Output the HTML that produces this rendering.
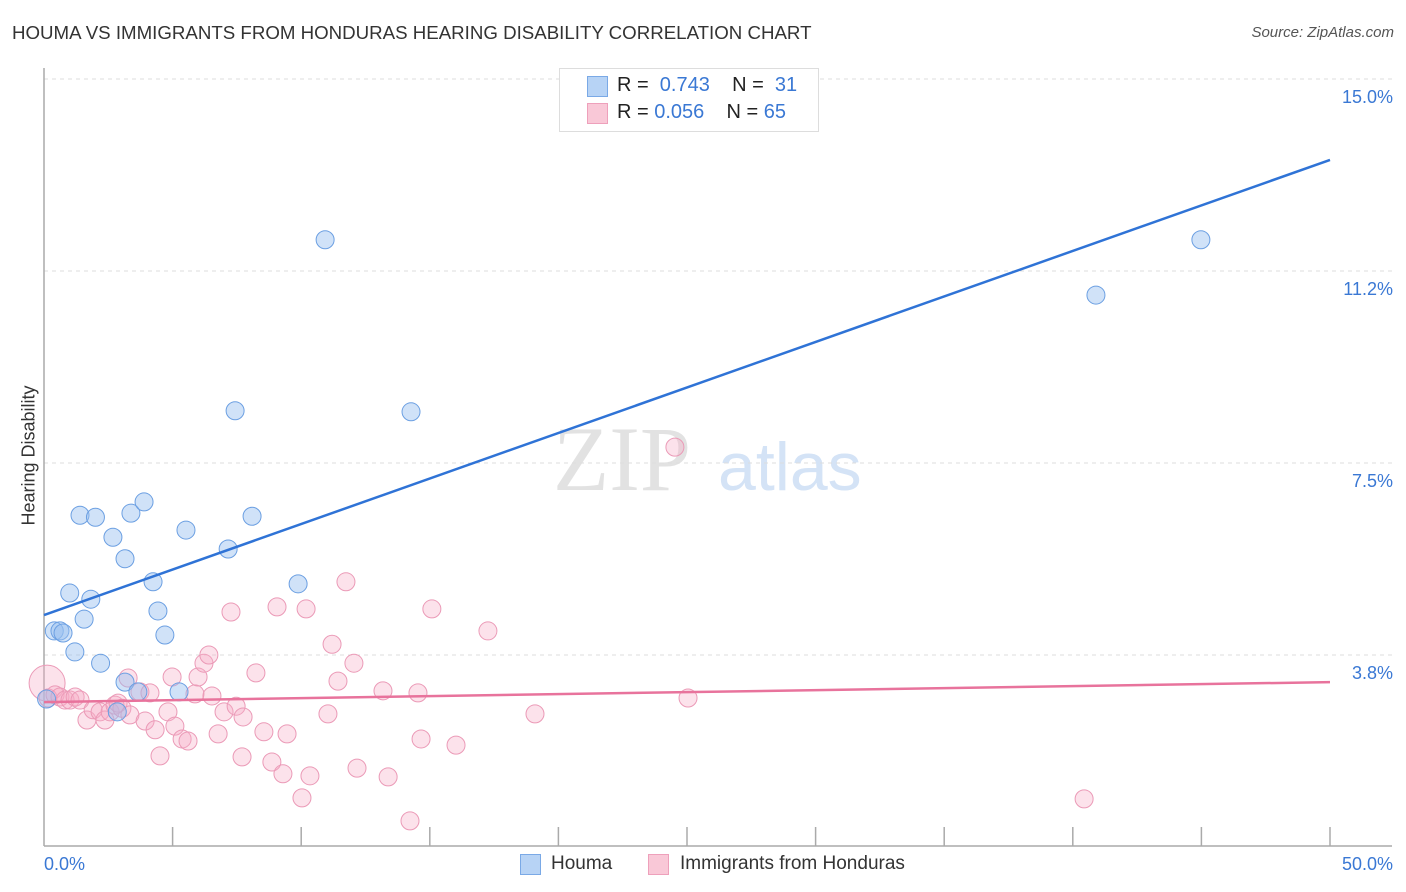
<!DOCTYPE html>
<html><head><meta charset="utf-8"><style>
body{margin:0;background:#fff;font-family:"Liberation Sans",sans-serif;}
#wrap{position:relative;width:1406px;height:892px;overflow:hidden;}
.t{position:absolute;white-space:nowrap;}
</style></head><body>
<div id="wrap">
<div class="t" style="left:12px;top:22px;font-size:18.7px;color:#333;">HOUMA VS IMMIGRANTS FROM HONDURAS HEARING DISABILITY CORRELATION CHART</div>
<div class="t" style="right:12px;top:24px;font-size:15px;color:#555;font-style:italic;">Source: ZipAtlas.com</div>
<div class="t" style="left:-41px;top:445px;font-size:18px;color:#333;transform:rotate(-90deg);">Hearing Disability</div>
<svg id="svg" width="1406" height="892" style="position:absolute;left:0;top:0"></svg>
<div style="position:absolute;left:559px;top:68px;width:258px;height:62px;border:1px solid #ddd;background:#fff;"></div>
<div style="position:absolute;left:587px;top:76px;width:19px;height:19px;background:#b7d3f5;border:1px solid #7aa9e6;"></div>
<div style="position:absolute;left:587px;top:103px;width:19px;height:19px;background:#f9c8d7;border:1px solid #eea0bb;"></div>
<div class="t" style="left:617px;top:74px;font-size:20px;color:#222;">R = &nbsp;<span style="color:#3a78d4">0.743</span>&nbsp;&nbsp;&nbsp; N = &nbsp;<span style="color:#3a78d4">31</span></div>
<div class="t" style="left:617px;top:101px;font-size:20px;color:#222;">R = <span style="color:#3a78d4">0.056</span>&nbsp;&nbsp;&nbsp; N = <span style="color:#3a78d4">65</span></div>
<div style="position:absolute;left:520px;top:854px;width:19px;height:19px;background:#b7d3f5;border:1px solid #7aa9e6;"></div>
<div class="t" style="left:551px;top:853px;font-size:19px;color:#333;">Houma</div>
<div style="position:absolute;left:648px;top:854px;width:19px;height:19px;background:#f9c8d7;border:1px solid #eea0bb;"></div>
<div class="t" style="left:680px;top:853px;font-size:19px;color:#333;">Immigrants from Honduras</div>
</div>
<script>
const xTicksLabels=["0.0%","50.0%"];
const yTickValues=[3.75,7.5,11.25,15];
const yTickLabels=["3.8%","7.5%","11.2%","15.0%"];
const houmaX=[0.1,0.4,0.62,0.74,1.0,1.2,1.4,1.56,1.82,2.0,2.2,2.68,2.85,3.15,3.15,3.38,3.65,3.89,4.24,4.43,4.7,5.25,5.52,7.16,7.43,8.09,9.88,10.93,14.27,40.9,44.98];
const houmaY=[2.89,4.22,4.22,4.18,4.96,3.81,6.48,4.45,4.84,6.44,3.59,6.05,2.64,5.63,3.22,6.52,3.03,6.74,5.18,4.61,4.14,3.03,6.19,5.82,8.52,6.46,5.14,11.86,8.5,10.78,11.86];
const hondX=[0.12,0.16,0.43,0.62,0.82,1.01,1.21,1.4,1.67,1.91,2.18,2.37,2.57,2.76,2.88,3.03,3.27,3.34,3.73,3.93,4.12,4.32,4.51,4.82,4.98,5.09,5.37,5.6,5.87,5.99,6.22,6.41,6.53,6.77,7.0,7.27,7.47,7.7,7.74,8.24,8.55,8.86,9.06,9.29,9.45,10.03,10.19,10.34,11.04,11.2,11.43,11.74,12.05,12.17,13.18,13.38,14.23,14.54,14.66,15.08,16.02,17.26,19.09,24.53,25.04,40.44];
const hondY=[3.2,2.91,2.97,2.93,2.87,2.87,2.93,2.87,2.48,2.68,2.64,2.48,2.64,2.77,2.81,2.71,3.3,2.58,3.03,2.46,3.01,2.29,1.78,2.64,3.32,2.36,2.11,2.07,2.99,3.32,3.59,3.75,2.95,2.21,2.64,4.59,2.75,1.76,2.54,3.4,2.25,1.66,4.69,1.43,2.21,0.96,4.65,1.39,2.6,3.96,3.24,5.18,3.59,1.54,3.05,1.37,0.51,3.01,2.11,4.65,1.99,4.22,2.6,7.81,2.91,0.94];
const hondR=[18,9,9,9,9,9,9,9,9,9,9,9,9,9,9,9,9,9,9,9,9,9,9,9,9,9,9,9,9,9,9,9,9,9,9,9,9,9,9,9,9,9,9,9,9,9,9,9,9,9,9,9,9,9,9,9,9,9,9,9,9,9,9,9,9,9];
const houmaLine=[4.53,13.42];
const hondLine=[2.83,3.22];
const X0=44,X1=1330,Y0=847,YS=51.2;
const sx=v=>X0+v*(X1-X0)/50, sy=v=>Y0-v*YS;
const NS="http://www.w3.org/2000/svg";
const svg=document.getElementById('svg');
function mk(t,a){const e=document.createElementNS(NS,t);for(const k in a)e.setAttribute(k,a[k]);svg.appendChild(e);return e;}
let w=mk('text',{x:553,y:490,'font-size':92,'font-family':'Liberation Serif, serif',fill:'#e2e2e2'});w.textContent='ZIP';


w=mk('text',{x:718,y:490,'font-size':68,'font-family':'Liberation Sans, sans-serif',fill:'#d4e3f6'});w.textContent='atlas';


yTickValues.forEach((v,i)=>{
 let g=mk('line',{x1:X0,x2:1392,y1:sy(v),y2:sy(v),stroke:'#ddd','stroke-dasharray':'4,4'});
 
 
 let t=mk('text',{x:1393,y:sy(v)+24,'text-anchor':'end','font-size':18,fill:'#3a78d4','font-family':'Liberation Sans, sans-serif'});t.textContent=yTickLabels[i];
 
 
});
let a=mk('line',{x1:X0,x2:X0,y1:68,y2:846,stroke:'#aaa','stroke-width':1.5});


a=mk('line',{x1:X0,x2:1392,y1:846,y2:846,stroke:'#aaa','stroke-width':1.5});


for(let i=1;i<=10;i++){let tk=mk('line',{x1:sx(i*5),x2:sx(i*5),y1:827,y2:846,stroke:'#aaa','stroke-width':1.5});
 
 }
let xl=mk('text',{x:44,y:870,'font-size':18,fill:'#3a78d4','font-family':'Liberation Sans, sans-serif'});xl.textContent=xTicksLabels[0];


xl=mk('text',{x:1393,y:870,'text-anchor':'end','font-size':18,fill:'#3a78d4','font-family':'Liberation Sans, sans-serif'});xl.textContent=xTicksLabels[1];


hondX.forEach((x,i)=>{let c=mk('circle',{cx:sx(x),cy:sy(hondY[i]),r:hondR[i],fill:'rgba(247,172,198,0.35)',stroke:'#eb9ab7','stroke-width':1});
 
 });
houmaX.forEach((x,i)=>{let c=mk('circle',{cx:sx(x),cy:sy(houmaY[i]),r:9,fill:'rgba(150,190,240,0.45)',stroke:'#6b9fe2','stroke-width':1});
 
 });
let l=mk('line',{x1:sx(0),x2:sx(50),y1:sy(hondLine[0]),y2:sy(hondLine[1]),stroke:'#e8739c','stroke-width':2.5});


l=mk('line',{x1:sx(0),x2:sx(50),y1:sy(houmaLine[0]),y2:sy(houmaLine[1]),stroke:'#2f73d6','stroke-width':2.5});


</script>
</body></html>
